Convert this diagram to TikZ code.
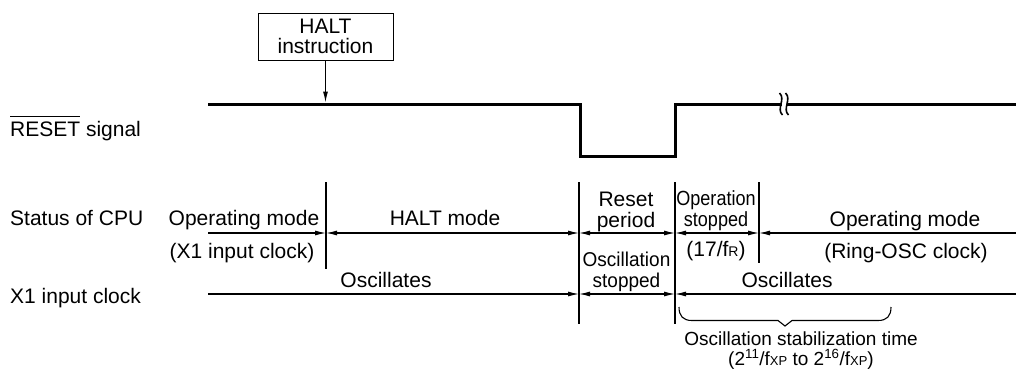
\documentclass[tikz,border=0pt]{standalone}
\usepackage{fontspec}
\setmainfont{Liberation Sans}
\newfontfamily\narrowA{Liberation Sans}[FakeStretch=0.88]
\newfontfamily\narrowB{Liberation Sans}[FakeStretch=0.95]
\usetikzlibrary{arrows.meta}

\begin{document}
\begin{tikzpicture}[x=1pt, y=-1pt,
  txt/.style={inner sep=0pt, anchor=base, align=center, font=\fontsize{21}{21}\selectfont},
  lbl/.style={txt, anchor=base west},
  narrowa/.style={txt, font=\narrowA\fontsize{20.5}{21}\selectfont},
  narrowb/.style={txt, font=\narrowB\fontsize{20}{20.5}\selectfont},
  box/.style={draw, line width=1pt, minimum width=135pt, minimum height=47pt, inner sep=0pt, text depth=0pt, align=center, font=\fontsize{21}{20}\selectfont},
  arr/.style={-{Latex[length=11pt,width=5pt]}, line width=1.1pt},
  rarr/.style={{Latex[length=11pt,width=5pt]}-, line width=1.1pt},
  darr/.style={{Latex[length=11pt,width=5pt]}-{Latex[length=11pt,width=5pt]}, line width=1.1pt},
  sig/.style={line width=3pt},
  tick/.style={line width=1.1pt},
  brk/.style={line width=1.6pt}
]
\useasboundingbox (0,0) rectangle (1016,381);

\node[lbl] (lreset) at (10,136) {$\overline{\mbox{RESET}\rule{0pt}{18pt}}$ signal};
\node[lbl] (lcpu)   at (10,225) {Status of CPU};
\node[lbl] (lxone)  at (10,303) {X1 input clock};

\node[box] (halt) at (325.5,36.5) {HALT\\instruction};
\coordinate (haltpt) at (325.5,102.5);
\draw[arr] (halt) -- (haltpt);

\draw[sig] (208,104) -- (580,104) -- (580,156) -- (675,156) -- (675,104) -- (1016,104);
\fill[white] (781.5,100) rectangle (786.5,108);
\draw[brk] (779.5,93) .. controls (786,99) and (776,109) .. (782.5,115);
\draw[brk] (785.5,93) .. controls (792,99) and (782,109) .. (788.5,115);

\draw[tick] (326,182) -- (326,269);
\draw[tick] (579,182) -- (579,324);
\draw[tick] (675,182) -- (675,324);
\draw[tick] (759,182) -- (759,263);

\coordinate (a1) at (208,233);
\coordinate (b1) at (326,233);
\coordinate (c1) at (579,233);
\coordinate (d1) at (675,233);
\coordinate (e1) at (759,233);
\coordinate (f1) at (1016,233);
\coordinate (a2) at (208,294);
\coordinate (c2) at (579,294);
\coordinate (d2) at (675,294);
\coordinate (f2) at (1016,294);

\draw[arr]  (a1) -- (b1);
\draw[darr] (b1) -- (c1);
\draw[darr] (c1) -- (d1);
\draw[darr] (d1) -- (e1);
\draw[rarr] (e1) -- (f1);
\draw[arr]  (a2) -- (c2);
\draw[darr] (c2) -- (d2);
\draw[rarr] (d2) -- (f2);

\node[txt] (opl)   at (244,225) {Operating mode};
\node[txt] (xclk)  at (242,258) {(X1 input clock)};
\node[txt] (haltm) at (445,225) {HALT mode};
\node[txt] (rstp)  at (626,227) {Reset\\period};
\node[narrowa] (opstop) at (716,226) {Operation\\stopped};
\node[txt] (fr)    at (716,256) {(17/f{\fontsize{14}{14}\selectfont R})};
\node[txt] (opr)   at (905,226) {Operating mode};
\node[txt] (ring)  at (906,258) {(Ring-OSC clock)};
\node[txt] (oscl)  at (386,287) {Oscillates};
\node[narrowb] (oscstop) at (626.5,287) {Oscillation\\stopped};
\node[txt] (oscr)  at (787,287) {Oscillates};

\draw[tick] (679,307) .. controls (679,316) and (683,320.5) .. (692,320.5) -- (778,320.5)
  -- (785,326) -- (792,320.5) -- (878,320.5) .. controls (887,320.5) and (891,316) .. (891,307);
\node[txt, font=\fontsize{19}{20}\selectfont] (stab) at (801,365)
  {Oscillation stabilization time\\(2\textsuperscript{11}/f{\fontsize{13}{13}\selectfont XP} to 2\textsuperscript{16}/f{\fontsize{13}{13}\selectfont XP})};
\end{tikzpicture}
\end{document}
